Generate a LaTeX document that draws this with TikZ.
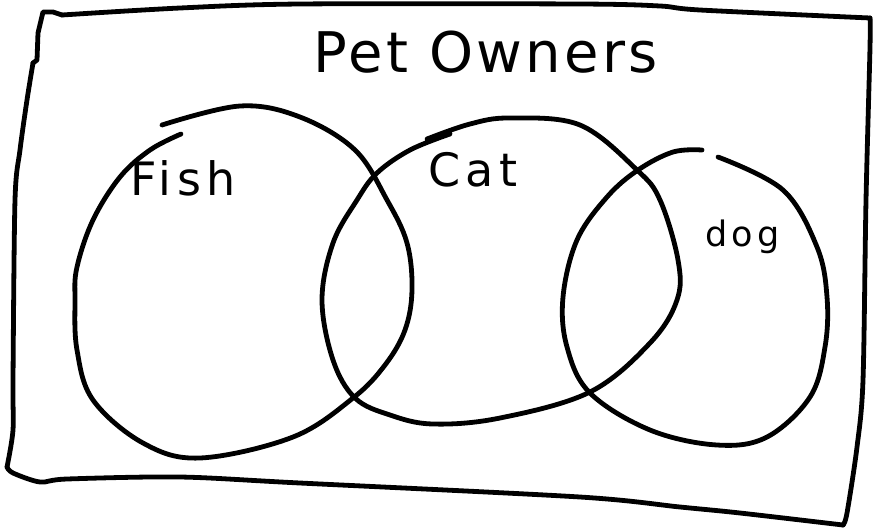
\documentclass[tikz,border=0pt]{standalone}
\usepackage{fontspec}
\setmainfont{DejaVu Sans}
\newfontfamily\handfont[LetterSpace=12]{DejaVu Sans}
\newfontfamily\titlefont[LetterSpace=6]{DejaVu Sans}
\usetikzlibrary{positioning}
\tikzset{
  pen/.style={line width=4.8pt, line join=round, line cap=round},
  setlabel/.style={inner sep=0pt, anchor=base west, font=\handfont},
  title/.style={setlabel, font=\titlefont\fontsize{56}{66}\selectfont},
  small/.style={setlabel, font=\handfont\fontsize{46}{54}\selectfont},
  tiny/.style={setlabel, font=\handfont\fontsize{35}{42}\selectfont}
}

\begin{document}
\begin{tikzpicture}[x=1pt, y=-1pt]
  \useasboundingbox (0,0) rectangle (874,528);

  % frame
  \draw[pen] plot[smooth, tension=0.5] coordinates {
    (62,15) (180,8) (300,4) (580,4) (660,6) (700,10) (870,18)};
  \draw[pen] plot[smooth, tension=0.5] coordinates {
    (870,18) (870,47) (866,200) (863,380) (857,447) (847,513) (843,525)};
  \draw[pen] plot[smooth, tension=0.5] coordinates {
    (843,525) (740,513) (680,507) (580,497) (300,483) (180,477) (67,479) (40,482) (13,473) (7,467)};
  \draw[pen] plot[smooth, tension=0.5] coordinates {
    (7,467) (13,430) (13,380) (15,200) (20,150) (27,100) (33,63)};
  \draw[pen] (33,63) -- (37,60) -- (38,33) -- (43,12) -- (53,12) -- (62,15);

  % sets
  \draw[pen] plot[smooth, tension=0.6] coordinates {
    (162,125) (240,106) (300,117) (355,150) (387,200) (407,243) (412,290)
    (405,330) (385,365) (353,398) (293,437) (200,458) (143,443) (93,400)
    (77,350) (75,300) (77,267) (93,220) (120,177) (150,150) (181,134)};
  \draw[pen] plot[smooth, tension=0.6] coordinates {
    (427,139) (470,124) (510,118) (580,125) (637,170) (660,200) (678,260)
    (677,300) (650,343) (590,392) (500,418) (433,424) (390,415) (355,398)
    (333,360) (322,300) (333,243) (357,200) (377,173) (410,150) (450,134)};
  \draw[pen] plot[smooth, tension=0.6] coordinates {
    (718,157) (783,190) (817,247) (827,297) (825,347) (810,397) (767,437)
    (717,445) (650,430) (590,393) (567,347) (563,297) (577,240) (607,197)
    (638,170) (673,152) (702,150)};

  \node[title] (owners) at (313,72) {Pet Owners};
  \node[small] (fish) at (130,195) {Fish};
  \node[small] (cat) at (428,186) {Cat};
  \node[tiny] (dog) at (705,246) {dog};
\end{tikzpicture}
\end{document}
